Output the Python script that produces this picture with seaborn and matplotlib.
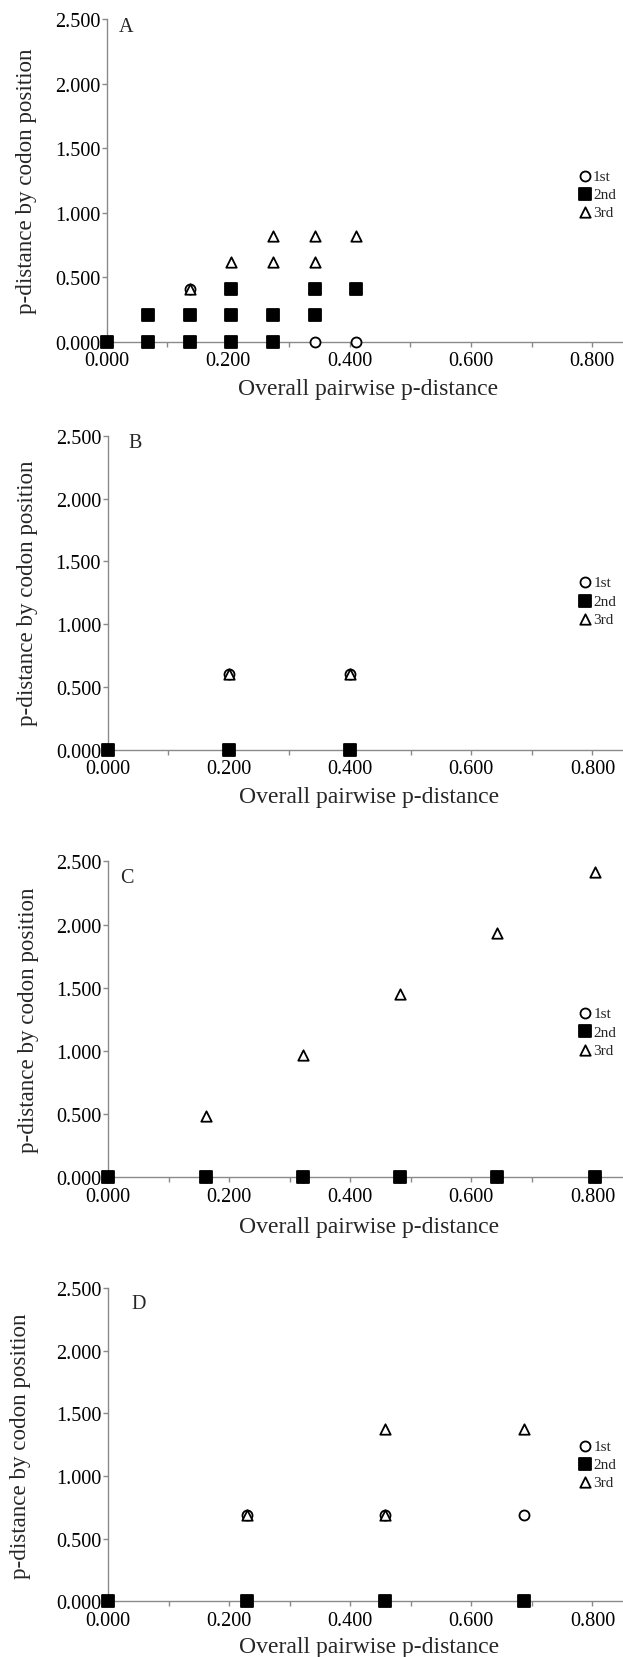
import pandas as pd
import matplotlib.pyplot as plt
import seaborn as sns
from matplotlib.ticker import MultipleLocator, FormatStrFormatter

sns.set_style("ticks")
plt.rcParams['font.family'] = ['Liberation Serif', 'DejaVu Serif']

series = ["1st", "2nd", "3rd"]

# panel A
a_x_1st = [0.137, 0.3425, 0.411]
a_y_1st = [0.411, 0.0, 0.0]
a_x_2nd = [0.0, 0.0685, 0.0685, 0.137, 0.137, 0.2055, 0.2055, 0.2055, 0.274, 0.274, 0.3425, 0.3425, 0.411]
a_y_2nd = [0.0, 0.0, 0.2055, 0.0, 0.2055, 0.0, 0.2055, 0.411, 0.0, 0.2055, 0.2055, 0.411, 0.411]
a_x_3rd = [0.137, 0.2055, 0.274, 0.274, 0.3425, 0.3425, 0.411]
a_y_3rd = [0.411, 0.6165, 0.6165, 0.822, 0.6165, 0.822, 0.822]

# panel B
b_x_1st = [0.2, 0.4]
b_y_1st = [0.6, 0.6]
b_x_2nd = [0.0, 0.2, 0.4]
b_y_2nd = [0.0, 0.0, 0.0]
b_x_3rd = [0.2, 0.4]
b_y_3rd = [0.6, 0.6]

# panel C
c_x_1st = [0.0, 0.161, 0.322, 0.483, 0.643, 0.804]
c_y_1st = [0.0, 0.0, 0.0, 0.0, 0.0, 0.0]
c_x_2nd = [0.0, 0.161, 0.322, 0.483, 0.643, 0.804]
c_y_2nd = [0.0, 0.0, 0.0, 0.0, 0.0, 0.0]
c_x_3rd = [0.161, 0.322, 0.483, 0.643, 0.804]
c_y_3rd = [0.483, 0.966, 1.449, 1.931, 2.414]

# panel D
d_x_1st = [0.229, 0.458, 0.687]
d_y_1st = [0.687, 0.687, 0.687]
d_x_2nd = [0.0, 0.229, 0.458, 0.687]
d_y_2nd = [0.0, 0.0, 0.0, 0.0]
d_x_3rd = [0.229, 0.458, 0.458, 0.687]
d_y_3rd = [0.687, 0.687, 1.374, 1.374]

panels = {
    "A": [(a_x_1st, a_y_1st), (a_x_2nd, a_y_2nd), (a_x_3rd, a_y_3rd)],
    "B": [(b_x_1st, b_y_1st), (b_x_2nd, b_y_2nd), (b_x_3rd, b_y_3rd)],
    "C": [(c_x_1st, c_y_1st), (c_x_2nd, c_y_2nd), (c_x_3rd, c_y_3rd)],
    "D": [(d_x_1st, d_y_1st), (d_x_2nd, d_y_2nd), (d_x_3rd, d_y_3rd)],
}

# axes rectangles (fig fraction), letter pos, legend centre, ylabel x, xlabel y
layout = {
    "A": ([0.1713, 0.7933, 0.8263, 0.1946], (0.038, 0.976), 0.457, -0.135, -0.114),
    "B": ([0.1727, 0.5472, 0.8249, 0.1894], (0.054, 0.979), 0.4745, -0.135, -0.115),
    "C": ([0.1734, 0.2893, 0.8242, 0.1906], (0.0365, 0.949), 0.461, -0.135, -0.1215),
    "D": ([0.1734, 0.0336, 0.8242, 0.1888], (0.0595, 0.950), 0.4376, -0.15, -0.112),
}

styles = {
    "1st": dict(marker="o", s=52, facecolor="white", zorder=3),
    "2nd": dict(marker="s", s=66, facecolor="black", zorder=4),
    "3rd": dict(marker="^", s=56, facecolor="white", zorder=5),
}

axis_col = "#8a8a8a"

fig = plt.figure(figsize=(6.23, 16.58), dpi=100)

for name, data in panels.items():
    rect, letter, leg_y, ylab_x, xlab_y = layout[name]
    ax = fig.add_axes(rect)
    for lab, (xs, ys) in zip(series, data):
        df = pd.DataFrame({"x": xs, "y": ys})
        st = styles[lab]
        sns.scatterplot(data=df, x="x", y="y", ax=ax, marker=st["marker"], s=st["s"],
                        facecolor=st["facecolor"], edgecolor="black", linewidth=1.3,
                        clip_on=False, zorder=st["zorder"], label=lab)

    ax.set_xlim(0, 0.848)
    ax.set_ylim(0, 2.5)
    ax.xaxis.set_major_locator(MultipleLocator(0.2))
    ax.xaxis.set_minor_locator(MultipleLocator(0.1))
    ax.yaxis.set_major_locator(MultipleLocator(0.5))
    ax.xaxis.set_major_formatter(FormatStrFormatter("%.3f"))
    ax.yaxis.set_major_formatter(FormatStrFormatter("%.3f"))
    ax.tick_params(axis="both", which="both", direction="out", length=3.4,
                   width=1, color=axis_col, labelsize=14.6, labelcolor="black")
    ax.tick_params(axis="x", which="both", pad=3.5)
    ax.tick_params(axis="y", pad=1.3)

    sns.despine(ax=ax)
    for sp in ["left", "bottom"]:
        ax.spines[sp].set_color(axis_col)
        ax.spines[sp].set_linewidth(1)

    ax.set_xlabel("Overall pairwise p-distance", fontsize=17)
    ax.set_ylabel("p-distance by codon position", fontsize=16.6)
    ax.xaxis.set_label_coords(0.508, xlab_y)
    ax.yaxis.set_label_coords(ylab_x, 0.5)

    ax.text(letter[0], letter[1], name, transform=ax.transAxes, fontsize=14.5,
            ha="center", va="center")

    ax.legend(loc="center left", bbox_to_anchor=(0.917, leg_y), frameon=False,
              fontsize=11, handlelength=0.8, handletextpad=0.14, borderpad=0,
              borderaxespad=0, labelspacing=0.3, markerscale=1)

fig.savefig("out.png", dpi=100)
